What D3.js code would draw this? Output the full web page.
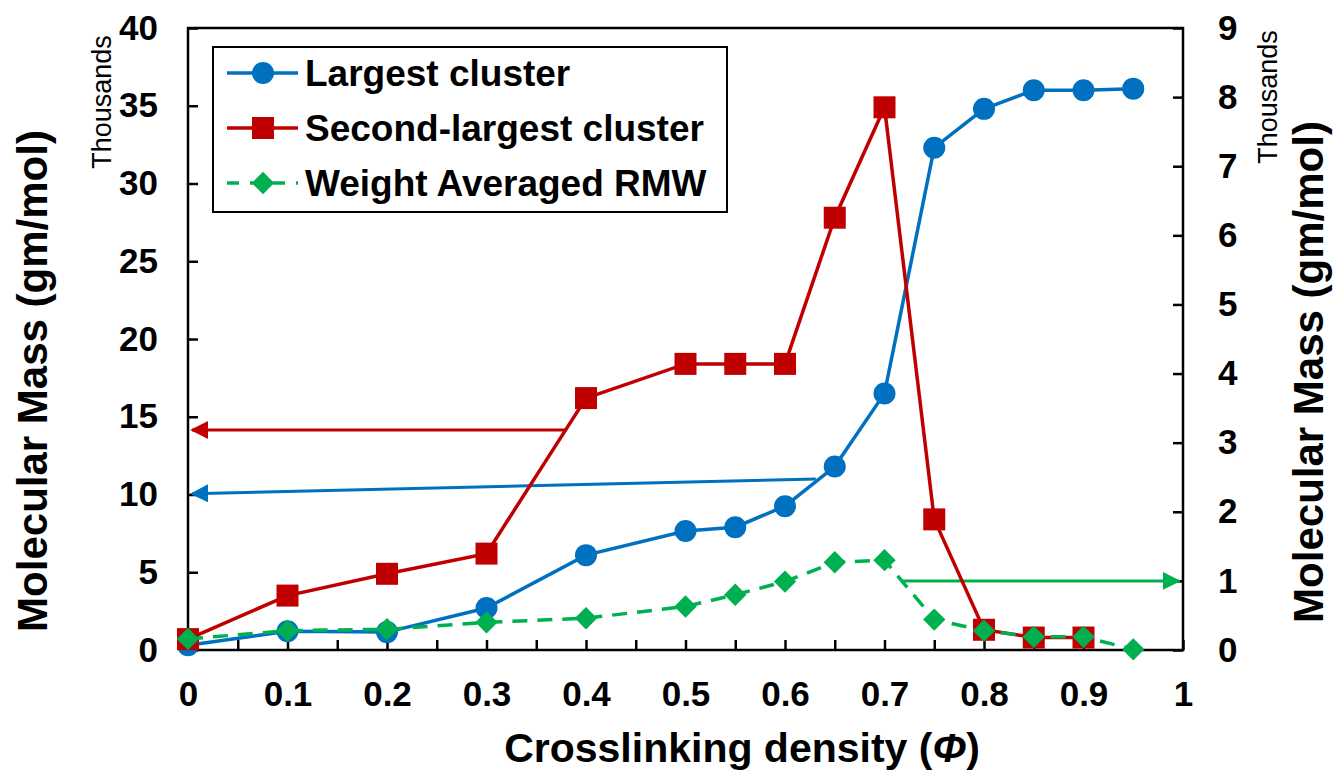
<!DOCTYPE html>
<html>
<head>
<meta charset="utf-8">
<script src="https://cdn.jsdelivr.net/npm/d3@7"></script>
<style>
  body { margin: 0; background: #fff; }
  text { font-family: "Liberation Sans", Arial, sans-serif; }
</style>
</head>
<body>
<svg id="chart" width="1333" height="782"></svg>
<script>
// crosslinking density values
const phi = [0, 0.1, 0.2, 0.3, 0.4, 0.5, 0.55, 0.6, 0.65, 0.7, 0.75, 0.8, 0.85, 0.9, 0.95]

// left axis, thousands gm/mol
const largest = [0.3, 1.2, 1.15, 2.7, 6.1, 7.65, 7.9, 9.25, 11.8, 16.5, 32.3, 34.8, 36.0, 36.0, 36.1]
const secondLargest = [0.7, 3.5, 4.9, 6.2, 16.2, 18.4, 18.4, 18.4, 27.8, 34.9, 8.4, 1.3, 0.8, 0.8]
// right axis, thousands gm/mol
const weightAvg = [0.16, 0.28, 0.3, 0.4, 0.46, 0.63, 0.8, 0.99, 1.27, 1.3, 0.44, 0.28, 0.19, 0.19, 0.01]

const xTicks = [0, 0.1, 0.2, 0.3, 0.4, 0.5, 0.6, 0.7, 0.8, 0.9, 1]
const leftTicks = [0, 5, 10, 15, 20, 25, 30, 35, 40]
const rightTicks = [0, 1, 2, 3, 4, 5, 6, 7, 8, 9]

const blue = '#0070C0', red = '#C00000', green = '#00B050'

const svg = d3.select('#chart')
const pLeft = 188, pRight = 1183, pTop = 28, pBottom = 650

const x = d3.scaleLinear().domain([0, 1]).range([pLeft, pRight])
const yL = d3.scaleLinear().domain([0, 40]).range([pBottom, pTop])
const yR = d3.scaleLinear().domain([0, 9]).range([pBottom, pTop])

// frame
svg.append('rect')
    .attr('x', pLeft).attr('y', pTop)
    .attr('width', pRight - pLeft).attr('height', pBottom - pTop)
    .attr('fill', 'none').attr('stroke', '#000').attr('stroke-width', 2.5)

// axes, ticks pointing inward
const axB = svg.append('g').attr('transform', 'translate(0,' + pBottom + ')')
    .call(d3.axisBottom(x).tickValues(d3.range(0, 1.001, 0.05)).tickSizeInner(-10).tickSizeOuter(0)
        .tickFormat(d => xTicks.some(t => Math.abs(t - d) < 1e-6) ? d3.format('~g')(d) : ''))
axB.selectAll('text').attr('y', 31).attr('dy', '0.71em')
axB.select('.domain').remove()

const axL = svg.append('g').attr('transform', 'translate(' + pLeft + ',0)')
    .call(d3.axisLeft(yL).tickValues(leftTicks).tickSizeInner(-10).tickSizeOuter(0))
axL.selectAll('text').attr('x', -30)
axL.select('.domain').remove()

const axR = svg.append('g').attr('transform', 'translate(' + pRight + ',0)')
    .call(d3.axisRight(yR).tickValues(rightTicks).tickSizeInner(-10).tickSizeOuter(0))
axR.selectAll('text').attr('x', 35)
axR.select('.domain').remove()

svg.selectAll('.tick line').attr('stroke', '#000').attr('stroke-width', 2.5)
svg.selectAll('.tick text')
    .attr('fill', '#000')
    .style('font-size', '35px').style('font-weight', 'bold')
    .style('font-family', '"Liberation Sans", Arial, sans-serif')
axR.selectAll('text').attr('text-anchor', 'start')

// axis titles
svg.append('text')
    .attr('transform', 'translate(47,381) rotate(-90)')
    .attr('text-anchor', 'middle')
    .style('font-size', '42px').style('font-weight', 'bold')
    .text('Molecular Mass (gm/mol)')
svg.append('text')
    .attr('transform', 'translate(1323,372) rotate(-90)')
    .attr('text-anchor', 'middle')
    .style('font-size', '42px').style('font-weight', 'bold')
    .text('Molecular Mass (gm/mol)')
svg.append('text')
    .attr('transform', 'translate(111,102) rotate(-90)')
    .attr('text-anchor', 'middle')
    .style('font-size', '27px')
    .text('Thousands')
svg.append('text')
    .attr('transform', 'translate(1277,97) rotate(-90)')
    .attr('text-anchor', 'middle')
    .style('font-size', '27px')
    .text('Thousands')

const xt = svg.append('text')
    .attr('x', 742).attr('y', 762)
    .attr('text-anchor', 'middle')
    .style('font-size', '41px').style('font-weight', 'bold')
xt.append('tspan').text('Crosslinking density (')
xt.append('tspan').style('font-style', 'italic').text('Φ')
xt.append('tspan').text(')')

// annotation arrows
const defs = svg.append('defs')
;[['blue', blue], ['red', red], ['green', green]].forEach(([k, c]) => {
  defs.append('marker').attr('id', 'ah-' + k)
      .attr('viewBox', '0 0 10 10').attr('refX', 9).attr('refY', 5)
      .attr('markerWidth', 6).attr('markerHeight', 6)
      .attr('markerUnits', 'strokeWidth').attr('orient', 'auto')
      .append('path').attr('d', 'M0,0 L10,5 L0,10 z').attr('fill', c)
})
svg.append('line')
    .attr('x1', x(0.38)).attr('y1', yL(14.15)).attr('x2', x(0.004)).attr('y2', yL(14.15))
    .attr('stroke', red).attr('stroke-width', 3).attr('marker-end', 'url(#ah-red)')
svg.append('line')
    .attr('x1', x(0.631)).attr('y1', yL(11.0)).attr('x2', x(0.004)).attr('y2', yL(10.05))
    .attr('stroke', blue).attr('stroke-width', 3).attr('marker-end', 'url(#ah-blue)')
svg.append('line')
    .attr('x1', x(0.718)).attr('y1', yR(1.0)).attr('x2', x(0.996)).attr('y2', yR(1.0))
    .attr('stroke', green).attr('stroke-width', 3).attr('marker-end', 'url(#ah-green)')

// series
const lineL = d3.line().x((d, i) => x(phi[i])).y(d => yL(d))
const lineR = d3.line().x((d, i) => x(phi[i])).y(d => yR(d))

svg.append('path').datum(largest).attr('d', lineL)
    .attr('fill', 'none').attr('stroke', blue).attr('stroke-width', 3.5)
svg.selectAll('.pt-blue').data(largest).enter().append('circle')
    .attr('class', 'pt-blue')
    .attr('cx', (d, i) => x(phi[i])).attr('cy', d => yL(d))
    .attr('r', 11).attr('fill', blue)

svg.append('path').datum(secondLargest).attr('d', lineL)
    .attr('fill', 'none').attr('stroke', red).attr('stroke-width', 3.5)
svg.selectAll('.pt-red').data(secondLargest).enter().append('rect')
    .attr('class', 'pt-red')
    .attr('x', (d, i) => x(phi[i]) - 11).attr('y', d => yL(d) - 11)
    .attr('width', 22).attr('height', 22).attr('fill', red)

svg.append('path').datum(weightAvg).attr('d', lineR)
    .attr('fill', 'none').attr('stroke', green).attr('stroke-width', 3.5)
    .attr('stroke-dasharray', '15,10')
const diamond = d3.symbol().type(d3.symbolSquare).size(250)
svg.selectAll('.pt-green').data(weightAvg).enter().append('path')
    .attr('class', 'pt-green')
    .attr('transform', (d, i) => 'translate(' + x(phi[i]) + ',' + yR(d) + ') rotate(45)')
    .attr('d', diamond).attr('fill', green)

// legend
const legend = svg.append('g')
legend.append('rect')
    .attr('x', 213).attr('y', 47).attr('width', 514).attr('height', 165)
    .attr('fill', '#fff').attr('stroke', '#000').attr('stroke-width', 2)
const items = [
  { name: 'Largest cluster', color: blue, shape: 'circle', dash: null },
  { name: 'Second-largest cluster', color: red, shape: 'square', dash: null },
  { name: 'Weight Averaged RMW', color: green, shape: 'diamond', dash: '14,9' },
]
items.forEach((it, i) => {
  const cy = 73 + i * 55
  legend.append('line')
      .attr('x1', 227).attr('x2', 298).attr('y1', cy).attr('y2', cy)
      .attr('stroke', it.color).attr('stroke-width', 3.5)
      .attr('stroke-dasharray', it.dash ? '12,11' : null)
  if (it.shape === 'circle') {
    legend.append('circle').attr('cx', 263).attr('cy', cy).attr('r', 11).attr('fill', it.color)
  } else if (it.shape === 'square') {
    legend.append('rect').attr('x', 252).attr('y', cy - 11).attr('width', 22).attr('height', 22).attr('fill', it.color)
  } else {
    legend.append('path').attr('transform', 'translate(263,' + cy + ') rotate(45)')
        .attr('d', diamond).attr('fill', it.color)
  }
  legend.append('text')
      .attr('x', 305).attr('y', cy).attr('dy', '0.36em')
      .style('font-size', '37px').style('font-weight', 'bold')
      .text(it.name)
})
</script>
</body>
</html>
